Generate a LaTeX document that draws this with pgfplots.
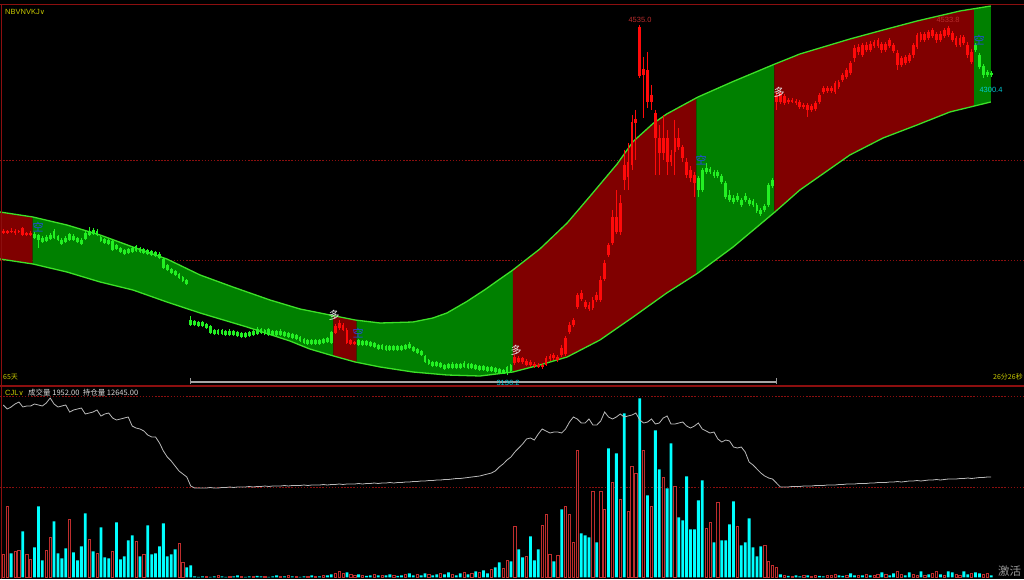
\documentclass[border=0pt]{standalone}
\usepackage{pgfplots}
\pgfplotsset{compat=1.18}
\usepackage{pgfplotstable}
\usepgfplotslibrary{fillbetween}
\usepackage{fontspec}
\setmainfont{Liberation Sans}
\newfontfamily\cjk{Noto Sans CJK SC}
\newfontfamily\dv{DejaVu Sans}
\pagecolor{black}

\definecolor{bandred}{RGB}{128,0,0}
\definecolor{bandgreen}{RGB}{0,128,0}
\definecolor{bandline}{RGB}{60,225,40}
\definecolor{cred}{RGB}{255,10,10}
\definecolor{cgreen}{RGB}{35,240,35}
\definecolor{vcyan}{RGB}{0,255,255}
\definecolor{vred}{RGB}{190,45,45}
\definecolor{oigray}{RGB}{185,185,185}
\definecolor{framered}{RGB}{140,15,15}
\definecolor{ylw}{RGB}{200,200,0}
\definecolor{lblred}{RGB}{185,45,45}
\definecolor{lblcyan}{RGB}{0,200,210}
\definecolor{sigblue}{RGB}{40,70,230}

% candles: index, high, low, body top, body bottom
\pgfplotstableread{
i H L T B
0 3720 3700 3712 3704
1 3716 3700 3712 3704
2 3724 3704 3712 3708
3 3720 3696 3712 3704
4 3716 3704 3712 3708
5 3728 3692 3724 3696
6 3708 3692 3704 3696
7 3712 3692 3704 3696
85 3340 3300 3332 3304
86 3356 3316 3344 3324
87 3344 3312 3336 3316
88 3324 3260 3316 3264
89 3280 3256 3276 3260
90 3272 3256 3268 3260
131 3216 3176 3208 3184
132 3212 3184 3204 3188
133 3208 3180 3204 3188
134 3200 3172 3192 3176
135 3196 3168 3188 3176
136 3188 3164 3180 3172
137 3184 3164 3176 3168
138 3184 3160 3176 3168
139 3212 3172 3204 3176
140 3220 3192 3212 3200
141 3224 3196 3216 3204
142 3216 3188 3208 3196
143 3256 3208 3244 3216
144 3292 3212 3284 3220
145 3348 3300 3336 3308
146 3364 3328 3356 3336
147 3464 3400 3456 3408
148 3476 3432 3464 3440
149 3436 3400 3428 3408
150 3428 3392 3416 3400
151 3448 3396 3436 3404
152 3468 3428 3456 3436
153 3532 3428 3516 3436
154 3596 3512 3584 3520
155 3664 3608 3656 3616
156 3796 3656 3768 3664
157 3876 3700 3768 3708
158 3856 3696 3824 3708
159 4036 3876 3976 3916
160 4064 3876 3988 3928
161 4176 3956 4148 3976
162 4196 3996 4160 4144
163 4535 4324 4528 4332
164 4408 4164 4360 4336
165 4428 4204 4356 4228
166 4296 4196 4256 4228
167 4196 3936 4184 4084
168 4136 3936 4084 4024
169 4176 3996 4084 4024
170 4116 3936 4084 3988
171 4036 3972 4016 3988
172 4156 3936 4084 4028
173 4124 4036 4084 4048
174 4056 3988 4048 4004
175 4004 3924 3988 3936
176 3972 3908 3956 3924
177 3948 3848 3936 3904
198 4268 4196 4256 4228
199 4272 4220 4264 4228
200 4260 4216 4252 4224
201 4244 4220 4236 4228
202 4244 4224 4236 4228
203 4240 4216 4232 4224
204 4236 4200 4228 4208
205 4224 4200 4216 4208
206 4224 4168 4216 4196
207 4220 4188 4212 4196
208 4232 4192 4224 4200
209 4264 4220 4256 4228
210 4292 4260 4284 4268
211 4292 4264 4284 4272
212 4292 4264 4284 4272
213 4312 4260 4304 4268
214 4316 4280 4308 4288
215 4344 4308 4336 4316
216 4364 4320 4356 4328
217 4392 4336 4384 4344
218 4456 4388 4444 4404
219 4460 4416 4448 4428
220 4464 4408 4456 4416
221 4468 4428 4456 4436
222 4472 4428 4460 4436
223 4476 4444 4468 4452
224 4484 4444 4476 4452
225 4468 4424 4460 4436
226 4468 4428 4460 4436
227 4484 4444 4476 4452
228 4464 4424 4456 4432
229 4436 4356 4424 4376
230 4412 4368 4404 4376
231 4416 4376 4408 4384
232 4424 4384 4416 4392
233 4464 4404 4456 4416
234 4504 4440 4496 4448
235 4508 4468 4500 4476
236 4508 4468 4500 4476
237 4516 4476 4508 4484
238 4524 4484 4516 4492
239 4508 4464 4500 4476
240 4512 4468 4500 4476
241 4524 4484 4516 4492
242 4533.8 4488 4524 4496
243 4512 4468 4504 4476
244 4492 4448 4484 4456
245 4496 4448 4484 4456
246 4496 4456 4488 4464
247 4468 4404 4456 4416
248 4440 4380 4428 4388
}\redc

\pgfplotstableread{
i H L T B
8 3708 3680 3700 3684
9 3700 3644 3696 3676
10 3692 3664 3684 3668
11 3696 3668 3688 3672
12 3704 3676 3696 3680
13 3720 3680 3712 3684
14 3696 3672 3692 3676
15 3684 3656 3676 3660
16 3692 3664 3684 3668
17 3704 3672 3700 3676
18 3700 3672 3692 3676
19 3688 3664 3684 3668
20 3684 3656 3676 3660
21 3712 3676 3704 3680
22 3728 3692 3712 3696
23 3724 3696 3716 3700
24 3720 3692 3712 3696
25 3692 3668 3688 3672
26 3684 3660 3680 3664
27 3680 3656 3676 3660
28 3676 3632 3672 3636
29 3660 3636 3656 3640
30 3648 3624 3644 3628
31 3640 3616 3636 3620
32 3644 3620 3640 3624
33 3652 3624 3644 3628
34 3656 3628 3652 3632
35 3648 3624 3644 3628
36 3644 3620 3640 3624
37 3640 3616 3636 3620
38 3636 3612 3632 3616
39 3632 3608 3628 3612
40 3628 3600 3620 3604
41 3608 3560 3600 3564
42 3580 3552 3576 3556
43 3564 3540 3560 3544
44 3556 3532 3552 3536
45 3544 3520 3540 3524
46 3532 3508 3528 3512
47 3520 3496 3516 3500
48 3372 3332 3356 3336
49 3356 3332 3352 3336
50 3352 3328 3348 3332
51 3352 3328 3348 3332
52 3344 3320 3340 3324
53 3336 3300 3332 3304
54 3320 3296 3316 3300
55 3320 3296 3316 3300
56 3320 3296 3316 3300
57 3316 3292 3312 3296
58 3320 3292 3312 3296
59 3316 3292 3312 3296
60 3312 3288 3308 3292
61 3308 3284 3304 3288
62 3308 3284 3304 3288
63 3312 3288 3308 3292
64 3316 3292 3312 3296
65 3328 3296 3320 3300
66 3324 3300 3320 3304
67 3320 3296 3316 3300
68 3324 3292 3320 3296
69 3316 3292 3312 3296
70 3316 3292 3312 3296
71 3320 3292 3312 3296
72 3312 3288 3308 3292
73 3308 3284 3304 3288
74 3304 3280 3300 3284
75 3300 3276 3296 3280
76 3292 3268 3288 3272
77 3284 3260 3280 3264
78 3280 3256 3276 3260
79 3280 3256 3276 3260
80 3280 3256 3276 3260
81 3280 3256 3276 3260
82 3284 3260 3280 3264
83 3288 3264 3284 3268
84 3312 3260 3308 3264
91 3280 3252 3276 3256
92 3276 3252 3272 3256
93 3276 3252 3272 3256
94 3272 3248 3268 3252
95 3268 3244 3264 3248
96 3260 3236 3256 3240
97 3260 3236 3256 3240
98 3256 3232 3252 3236
99 3256 3232 3252 3236
100 3256 3232 3252 3236
101 3256 3232 3252 3236
102 3256 3232 3252 3236
103 3260 3236 3256 3240
104 3268 3240 3260 3244
105 3252 3228 3248 3232
106 3244 3220 3240 3224
107 3236 3212 3232 3216
108 3216 3184 3212 3188
109 3200 3176 3196 3180
110 3192 3168 3188 3172
111 3192 3168 3188 3172
112 3188 3164 3184 3168
113 3180 3156 3176 3160
114 3184 3160 3180 3164
115 3188 3160 3180 3164
116 3184 3160 3180 3164
117 3184 3160 3180 3164
118 3192 3164 3184 3168
119 3184 3160 3180 3164
120 3184 3160 3180 3164
121 3180 3156 3176 3160
122 3176 3152 3172 3156
123 3176 3152 3172 3156
124 3172 3148 3168 3152
125 3172 3148 3168 3152
126 3168 3144 3164 3148
127 3164 3140 3160 3144
128 3160 3140 3156 3140
129 3172 3136.2 3168 3148
130 3180 3148 3176 3152
178 3932 3848 3924 3876
179 3964 3868 3956 3876
180 3984 3940 3964 3948
181 3968 3940 3960 3948
182 3956 3924 3948 3932
183 3956 3924 3948 3932
184 3940 3900 3932 3908
185 3912 3840 3904 3848
186 3876 3828 3856 3836
187 3856 3820 3844 3828
188 3864 3828 3852 3836
189 3844 3808 3836 3816
190 3864 3828 3852 3836
191 3844 3812 3836 3820
192 3840 3808 3832 3816
193 3824 3784 3816 3792
194 3804 3772 3796 3780
195 3820 3788 3812 3796
196 3904 3808 3896 3816
197 3924 3884 3916 3892
249 4464 4428 4456 4436
250 4424 4360 4416 4368
251 4380 4324 4372 4336
252 4356 4328 4348 4336
253 4352 4328 4344 4336
}\greenc

\pgfplotstableread{
x y
-0.85 3788
7.6 3768
16.3 3736
24.8 3696
33.2 3648
41.9 3600
50.4 3536
58.8 3488
68.3 3436
76.0 3400
83.7 3376
90.1 3356
96.5 3344
104.9 3348
110.0 3364
113.6 3384
118.7 3430
123.4 3478
127.2 3520
130.5 3556
137.4 3640
144.4 3744
150.2 3850
157.2 3980
161.3 4070
166.4 4142
169.9 4180
177.9 4248
186.9 4310
197.6 4380
204.0 4420
216.8 4480
225.3 4516
234.0 4552
245.0 4592
252.9 4612
}\bandup

\pgfplotstableread{
x y
-0.85 3600
7.6 3580
16.3 3548
24.8 3508
33.2 3476
41.9 3428
50.4 3384
62.4 3328
73.4 3272
78.5 3240
83.7 3216
90.1 3188
96.5 3168
104.9 3148
113.6 3136
122.1 3132
130.5 3148
137.4 3176
144.4 3208
152.8 3276
161.3 3368
169.9 3464
177.9 3544
186.9 3648
197.6 3788
204.0 3876
216.8 4016
225.3 4084
234.0 4136
242.4 4188
252.9 4228
}\bandlo

\pgfplotsset{
  panel/.style={scale only axis, anchor=south west, width=1024pt,
    xmin=-0.845, xmax=261.4, axis line style={draw=none},
    xtick=\empty, major tick length=0pt, tick style={draw=none},
    yticklabels={}, ymajorgrids,
    grid style={framered, line width=0.8pt, dash pattern=on 1.5pt off 1.6pt}},
  stick/.style 2 args={color=#1, only marks, mark=none, mark size=0pt,
    mark options={draw=none, fill=none},
    error bars/y dir=minus, error bars/y explicit,
    error bars/error mark=none,
    error bars/error mark options={draw=none, fill=none, mark size=0pt},
    error bars/error bar style={draw=#1, solid, line width=#2}},
}

\begin{document}
\begin{tikzpicture}

% ---------------- price panel ----------------
\begin{axis}[panel, at={(0pt,193pt)}, height=381pt,
  ymin=3092, ymax=4616, ytick={3596,3996}]
\addplot[name path=U, draw=none, forget plot] table[x=x,y=y] {\bandup};
\addplot[name path=L, draw=none, forget plot] table[x=x,y=y] {\bandlo};
\addplot[fill=bandred, draw=none] fill between[of=U and L, soft clip={domain=-1:7.5}];
\addplot[fill=bandgreen, draw=none] fill between[of=U and L, soft clip={domain=7.5:84.5}];
\addplot[fill=bandred, draw=none] fill between[of=U and L, soft clip={domain=84.5:90.5}];
\addplot[fill=bandgreen, draw=none] fill between[of=U and L, soft clip={domain=90.5:130.5}];
\addplot[fill=bandred, draw=none] fill between[of=U and L, soft clip={domain=130.5:177.5}];
\addplot[fill=bandgreen, draw=none] fill between[of=U and L, soft clip={domain=177.5:197.5}];
\addplot[fill=bandred, draw=none] fill between[of=U and L, soft clip={domain=197.5:248.6}];
\addplot[fill=bandgreen, draw=none] fill between[of=U and L, soft clip={domain=248.6:253}];
\addplot[bandline, line width=1.3pt] table[x=x,y=y] {\bandup};
\addplot[bandline, line width=1.3pt] table[x=x,y=y] {\bandlo};
% candles
\addplot[stick={cred}{0.9pt}] table[x=i, y=H, y error expr=\thisrow{H}-\thisrow{L}] {\redc};
\addplot[stick={cred}{2.8pt}] table[x=i, y=T, y error expr=\thisrow{T}-\thisrow{B}] {\redc};
\addplot[stick={cgreen}{0.9pt}] table[x=i, y=H, y error expr=\thisrow{H}-\thisrow{L}] {\greenc};
\addplot[stick={cgreen}{2.8pt}] table[x=i, y=T, y error expr=\thisrow{T}-\thisrow{B}] {\greenc};
\end{axis}

% ---------------- volume panel ----------------
\begin{axis}[panel, at={(0pt,0pt)}, height=193pt,
  ymin=-1700, ymax=191300, ytick={90300,181300}]
\addplot[ybar, bar width=2.8pt, bar shift=0pt, fill=vcyan, draw=none] coordinates {
(2,24000)(5,46000)(8,30000)(9,71000)(10,17000)(13,56000)(14,24000)(15,19000)(16,29000)(18,25000)(19,17000)(20,31000)(21,64000)(23,26000)(25,50000)(26,20000)(27,19000)(29,55000)(30,18000)(31,21000)(32,37000)(33,42000)(35,21000)(37,52000)(38,23000)(39,24000)(40,31000)(41,54000)(42,21000)(43,23000)(44,28000)(47,10000)(48,12000)
(49,1000)(50,500)(51,1000)(53,500)(54,1000)(56,1000)(57,500)(59,1000)(60,2000)(62,500)(63,1000)(65,1500)(66,1000)(68,500)(69,1000)(70,2000)(72,1000)(74,1000)(76,500)(77,1000)(79,2000)(81,1000)(83,2000)(84,3000)(88,5000)(91,3000)(93,1500)(94,2000)(96,2000)(98,2000)(99,3000)(101,1500)(102,2000)(104,4000)(105,2000)(107,2000)(108,4000)(110,2000)(111,3000)(113,3000)(114,5000)(116,2000)(117,4000)(119,3000)(121,6000)(123,7000)(124,4000)(126,10000)
(127,15000)(130,16000)(132,28000)(133,20000)(135,41000)(136,17000)(137,28000)(141,16000)(143,68000)(148,44000)(149,42000)(150,40000)(152,35000)(155,129000)(157,124000)(159,164000)(163,179000)(165,82000)(167,147000)(168,108000)(170,89000)(171,134000)(173,60000)(174,57000)(175,101000)(176,48000)(177,48000)(178,77000)(179,97000)(182,35000)(184,37000)(185,37000)(186,53000)(187,76000)(189,32000)(190,35000)(191,59000)(192,30000)(193,21000)(194,31000)(199,3000)
(201,1500)(203,2000)(204,1000)(206,2000)(209,1500)(210,1000)(214,2000)(215,1500)(217,4000)(218,2000)(220,2000)(222,2000)(225,5000)(227,2000)(228,4000)(231,2000)(232,5000)(235,6000)(237,3000)(240,3000)(242,6000)(243,5000)(246,6000)(247,3000)(249,5000)(250,4000)(253,1952)};
\addplot[ybar, bar width=2.3pt, bar shift=0pt, fill=black, draw=vred, line width=0.7pt] coordinates {
(0,23000)(1,71000)(3,26000)(4,27000)(6,23000)(7,18000)(11,27000)(12,40000)(17,58000)(22,38000)(24,24000)(28,26000)(34,36000)(36,23000)(45,34000)(46,15000)
(52,1000)(55,1500)(58,1000)(61,1000)(64,1000)(67,1000)(71,1000)(73,1500)(75,1000)(78,1000)(80,1000)(82,1500)(85,4000)(86,6000)(87,4000)(89,3000)(90,2000)(92,2000)(95,3000)(97,1500)(100,2000)(103,3000)(106,3000)(109,3000)(112,4000)(115,3000)(118,5000)(120,4000)(122,5000)(125,8000)
(128,9000)(129,17000)(131,51000)(134,21000)(138,52000)(139,63000)(140,23000)(142,22000)(144,71000)(145,63000)(146,35000)(147,127000)(151,86000)(153,86000)(154,68000)(156,95000)(158,78000)(160,66000)(161,111000)(162,104000)(164,127000)(166,71000)(169,100000)(172,91000)(180,49000)(181,55000)(183,75000)(188,51000)(195,32000)(196,16000)(197,12000)(198,10000)
(200,2000)(202,1000)(205,1500)(207,1000)(208,2000)(211,2000)(212,1500)(213,3000)(216,2000)(219,1500)(221,3000)(223,1500)(224,3000)(226,3000)(229,6000)(230,3000)(233,3000)(234,2000)(236,2000)(238,4000)(239,6000)(241,2000)(244,3000)(245,2000)(248,4000)(251,3000)(252,4000)};
\end{axis}

% ---------------- open interest ----------------
\begin{axis}[panel, at={(0pt,0pt)}, height=193pt,
  ymin=6525, ymax=18105, ytick=\empty, ymajorgrids=false]
\addplot[oigray, line width=0.8pt] coordinates {
(0,16965)(1,16725)(2,16845)(3,17025)(4,17145)(5,16845)(6,16905)(7,16905)(8,17025)(9,16965)(10,16905)(11,17085)(12,17385)(13,17025)(14,16845)(15,16905)(16,16965)(17,16545)(18,16665)(19,16725)(20,16785)(21,16425)(22,16485)(23,16545)(24,16665)(25,16305)(26,16425)(27,16485)(28,16185)(29,16065)(30,16125)(31,16185)(32,16245)(33,15705)(34,15585)(35,15525)(36,15405)(37,15165)(38,15045)(39,15045)(40,14685)(41,14205)(42,13845)(43,13605)(44,13305)(45,13005)(46,12825)(47,12645)(48,12105)(49,11985)
(50,11985)(51,11985)(52,11985)(53,12015)(54,11985)(55,11985)(56,12015)(57,12015)(58,12045)(59,12015)(60,12045)(61,12045)(62,12045)(63,12075)(64,12045)(65,12075)(66,12075)(67,12105)(68,12075)(69,12105)(70,12105)(71,12105)(72,12135)(73,12105)(74,12135)(75,12135)(76,12135)(77,12165)(78,12135)(79,12165)(80,12165)(81,12165)(82,12195)(83,12165)(84,12195)(85,12195)(86,12225)(87,12195)(88,12225)(89,12225)(90,12225)(91,12255)(92,12225)(93,12255)(94,12255)(95,12285)(96,12255)(97,12285)(98,12285)(99,12315)(100,12285)(101,12315)(102,12315)(103,12345)(104,12345)(105,12375)(106,12375)(107,12405)(108,12405)(109,12435)(110,12435)(111,12465)(112,12465)(113,12495)(114,12495)(115,12525)(116,12555)(117,12555)(118,12585)(119,12615)(120,12645)(121,12675)(122,12705)(123,12765)(124,12825)(125,12885)(126,13005)
(127,13245)(128,13425)(129,13665)(130,13845)(131,14145)(132,14385)(133,14625)(134,14925)(135,14985)(136,14865)(137,15225)(138,15525)(139,15405)(140,15285)(141,15345)(142,15345)(143,15285)(144,15525)(145,15945)(146,16245)(147,16125)(148,15885)(149,15885)(150,16125)(151,15765)(152,15765)(153,16005)(154,16545)(155,16245)(156,16125)(157,16245)(158,16425)(159,16245)(160,16305)(161,16365)(162,16485)(163,16065)(164,15885)(165,15945)(166,16125)(167,15825)(168,15885)(169,16185)(170,16305)(171,15825)(172,15825)(173,15885)(174,15945)(175,15705)(176,15585)(177,15705)(178,15885)(179,15525)(180,15405)(181,15285)(182,15345)(183,14925)(184,14745)(185,14865)(186,14805)(187,14445)(188,14385)(189,14445)(190,14145)(191,13545)(192,13365)(193,13125)(194,12885)(195,12705)(196,12585)(197,12525)(198,12285)(199,12045)
(200,12045)(201,12045)(202,12075)(203,12075)(204,12075)(205,12105)(206,12105)(207,12105)(208,12135)(209,12135)(210,12135)(211,12165)(212,12165)(213,12165)(214,12195)(215,12195)(216,12225)(217,12225)(218,12225)(219,12255)(220,12255)(221,12255)(222,12285)(223,12285)(224,12315)(225,12315)(226,12315)(227,12345)(228,12345)(229,12375)(230,12345)(231,12375)(232,12405)(233,12405)(234,12435)(235,12405)(236,12435)(237,12465)(238,12465)(239,12495)(240,12465)(241,12495)(242,12525)(243,12525)(244,12525)(245,12555)(246,12555)(247,12585)(248,12555)(249,12585)(250,12615)(251,12615)(252,12645)(253,12645)};
\end{axis}

% ---------------- frame and annotations ----------------
\draw[framered, line width=1pt] (0pt,574pt) -- (1024pt,574pt);
\draw[framered, line width=1.2pt] (0pt,193pt) -- (1024pt,193pt);
\draw[framered, line width=1.2pt] (1.2pt,0pt) -- (1.2pt,574pt);
\draw[gray!70, line width=1.6pt] (190pt,197pt) -- (777pt,197pt);
\draw[gray!80, line width=1pt] (190.5pt,195pt) -- (190.5pt,201pt);
\draw[gray!80, line width=1pt] (776.5pt,195pt) -- (776.5pt,201pt);

\begin{scope}[every node/.style={inner sep=0pt}]
\node[anchor=west, text=ylw, font=\fontsize{7.5}{9}\selectfont] at (5pt,567pt) {NBVNVKJ{\dv\fontsize{7}{8}\selectfont ∨}};
\node[anchor=west, text=ylw, font=\cjk\fontsize{7}{8}\selectfont] at (3pt,202pt) {65天};
\node[anchor=west, text=ylw, font=\cjk\fontsize{7}{8}\selectfont] at (993pt,202pt) {26分26秒};
\node[anchor=west, text=ylw, font=\fontsize{7.5}{9}\selectfont] at (5pt,186pt) {CJL{\dv\fontsize{7}{8}\selectfont ∨}};
\node[anchor=west, text=black!15, font=\cjk\fontsize{7.5}{9}\selectfont] at (28pt,186pt) {成交量 1952.00\ \ 持仓量 12645.00};
\node[anchor=west, text=black!40, font=\cjk\fontsize{11.5}{13}\selectfont] at (998pt,8pt) {激活};
\node[text=lblred, font=\fontsize{7.5}{9}\selectfont] at (640pt,559pt) {4535.0};
\node[text=lblred, font=\fontsize{7.5}{9}\selectfont] at (948pt,559pt) {4533.8};
\node[text=lblcyan, font=\fontsize{7.5}{9}\selectfont] at (991pt,489pt) {4300.4};
\node[text=lblcyan, font=\fontsize{7.5}{9}\selectfont] at (508pt,196pt) {3136.2};
\node[text=black!8, font=\cjk\fontsize{11}{12}\selectfont] at (334pt,264pt) {多};
\node[text=black!8, font=\cjk\fontsize{11}{12}\selectfont] at (516pt,229pt) {多};
\node[text=black!8, font=\cjk\fontsize{11}{12}\selectfont] at (779pt,487pt) {多};
\node[text=sigblue, font=\cjk\fontsize{11}{12}\selectfont] at (38pt,352pt) {空};
\node[text=sigblue, font=\cjk\fontsize{11}{12}\selectfont] at (358pt,246pt) {空};
\node[text=sigblue, font=\cjk\fontsize{11}{12}\selectfont] at (701pt,419pt) {空};
\node[text=sigblue, font=\cjk\fontsize{11}{12}\selectfont] at (979pt,539pt) {空};
\end{scope}

\pgfresetboundingbox
\path[use as bounding box] (0pt,0pt) rectangle (1024pt,579pt);
\end{tikzpicture}
\end{document}
